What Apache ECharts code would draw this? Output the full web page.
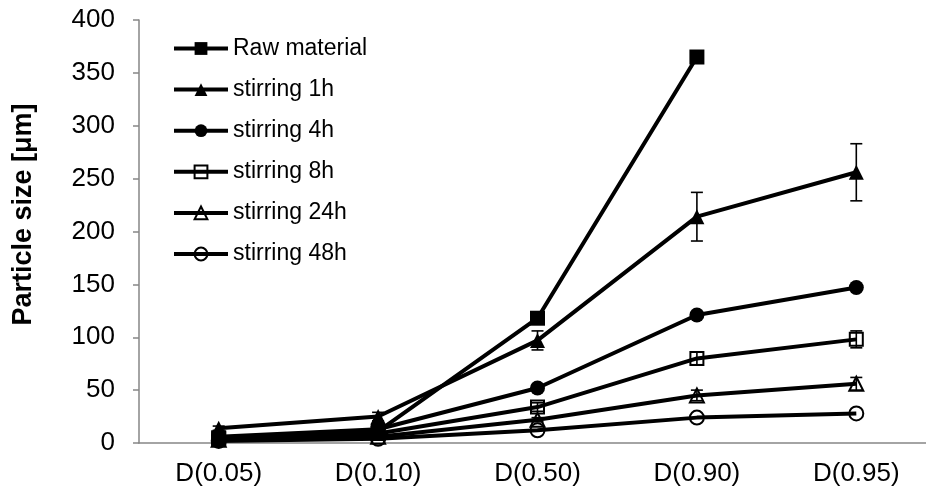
<!DOCTYPE html>
<html>
<head>
<meta charset="utf-8">
<script src="https://cdn.jsdelivr.net/npm/echarts@6/dist/echarts.min.js"></script>
<style>html,body{margin:0;padding:0;background:#fff}#c{width:926px;height:492px}</style>
</head>
<body>
<div id="c"></div>
<script>
const categories = ['D(0.05)', 'D(0.10)', 'D(0.50)', 'D(0.90)', 'D(0.95)'];
const seriesNames = ['Raw material', 'stirring 1h', 'stirring 4h', 'stirring 8h', 'stirring 24h', 'stirring 48h'];
const rawMaterial = [5, 11, 118, 365, null];
const stirring1h = [14, 25, 97, 214, 256];
const stirring4h = [6, 13, 52, 121, 147];
const stirring8h = [4, 9, 34, 80, 98];
const stirring24h = [3, 6, 22, 45, 56];
const stirring48h = [2, 4, 12, 24, 28];
const err1h = [2, 4, 9, 23, 27];
const err8h = [1, 1, 4, 6, 8];
const err24h = [1, 1, 2, 5, 6];
const yTicks = [0, 50, 100, 150, 200, 250, 300, 350, 400];

const values = [rawMaterial, stirring1h, stirring4h, stirring8h, stirring24h, stirring48h];
const symbols = ['rect', 'triangle', 'circle', 'rect', 'triangle', 'circle'];
const symSizes = [15, 15, 15, 13, 14, 14];
const filled = [true, true, true, false, false, false];

const lineSeries = seriesNames.map((n, i) => ({
  name: n,
  type: 'line',
  data: values[i],
  symbol: symbols[i],
  symbolSize: symSizes[i],
  showSymbol: true,
  connectNulls: false,
  lineStyle: { color: '#000', width: 4 },
  itemStyle: filled[i]
    ? { color: '#000', borderColor: '#000', borderWidth: 0 }
    : { color: 'rgba(255,255,255,0)', borderColor: '#000', borderWidth: 2 },
  z: 3
}));

function errSeries(vals, errs) {
  return {
    type: 'custom',
    silent: true,
    z: 4,
    data: vals.map((v, i) => [i, v, errs[i]]),
    renderItem: function (params, api) {
      const x = api.value(0), v = api.value(1), e = api.value(2);
      const top = api.coord([x, v + e]);
      const bot = api.coord([x, v - e]);
      const hw = 6;
      const st = { stroke: '#000', lineWidth: 1.6 };
      return {
        type: 'group',
        children: [
          { type: 'line', shape: { x1: top[0], y1: top[1], x2: bot[0], y2: bot[1] }, style: st },
          { type: 'line', shape: { x1: top[0] - hw, y1: top[1], x2: top[0] + hw, y2: top[1] }, style: st },
          { type: 'line', shape: { x1: bot[0] - hw, y1: bot[1], x2: bot[0] + hw, y2: bot[1] }, style: st }
        ]
      };
    }
  };
}

const chart = echarts.init(document.getElementById('c'));
chart.setOption({
  animation: false,
  textStyle: { fontFamily: 'Liberation Sans, Arial, sans-serif' },
  grid: { left: 139, top: 20, width: 797, height: 423, outerBoundsMode: 'none', containLabel: false },
  legend: {
    orient: 'vertical',
    left: 172,
    top: 37,
    padding: 0,
    itemWidth: 54,
    itemHeight: 16,
    itemGap: 18.1,
    data: seriesNames,
    lineStyle: { width: 4 },
    textStyle: { fontSize: 23, color: '#000', padding: [0, 0, 0, 0] },
    inactiveColor: '#000'
  },
  xAxis: {
    type: 'category',
    data: categories,
    boundaryGap: true,
    axisLine: { lineStyle: { color: '#868686', width: 1.5 } },
    axisTick: { show: false },
    axisLabel: { fontSize: 26, color: '#000', margin: 18 }
  },
  yAxis: {
    type: 'value',
    min: yTicks[0],
    max: yTicks[yTicks.length - 1],
    interval: 50,
    name: 'Particle size [μm]',
    nameLocation: 'middle',
    nameGap: 102,
    nameTextStyle: { fontSize: 27, fontWeight: 'bold', color: '#000', padding: [0, 0, 0, 34] },
    axisLine: { show: true, lineStyle: { color: '#868686', width: 1.5 } },
    axisTick: { show: true, length: 6, lineStyle: { color: '#868686', width: 1.5 } },
    axisLabel: { fontSize: 26, color: '#000', margin: 24 },
    splitLine: { show: false }
  },
  series: lineSeries.concat([
    errSeries(stirring1h, err1h),
    errSeries(stirring8h, err8h),
    errSeries(stirring24h, err24h)
  ])
});
</script>
</body>
</html>
